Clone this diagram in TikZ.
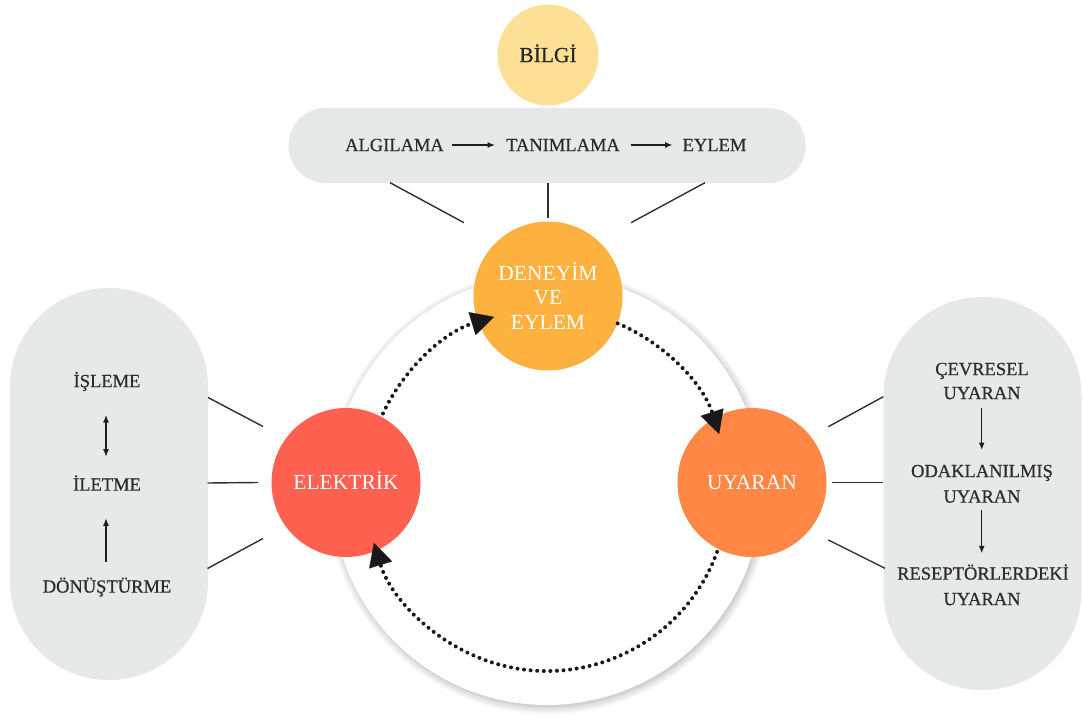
\documentclass[tikz,border=0pt]{standalone}
\usepackage{fontspec}
\setmainfont{Liberation Serif}
\usetikzlibrary{arrows.meta,calc,shadows.blur}

\definecolor{pillgray}{HTML}{E7E8E8}
\definecolor{txtgray}{HTML}{2C2C2C}
\definecolor{linegray}{HTML}{303030}
\definecolor{infoyellow}{HTML}{FEDF96}
\definecolor{expcolor}{HTML}{FDB13E}
\definecolor{eleccolor}{HTML}{FE6150}
\definecolor{stimcolor}{HTML}{FF8745}
\definecolor{darktext}{HTML}{262626}

\begin{document}
\begin{tikzpicture}[x=1pt,y=1pt,
  capsize/.style={font=\fontsize{18.5}{22}\selectfont\addfontfeatures{FakeBold=0.6}, text=txtgray, inner sep=0pt,
    text height=12.2pt, text depth=0pt},
  disc/.style={circle, inner sep=0pt, minimum size=149pt, text=white,
    font=\fontsize{21.5}{24.5}\selectfont, align=center},
  oneline/.style={text height=14.2pt, text depth=0pt},
  panel/.style={fill=pillgray, inner sep=0pt},
  link/.style={draw=linegray, line width=1.4pt},
  smallarrow/.style={draw=black!88, line width=1.2pt, -{Latex[length=7.5pt,width=6pt]}},
  looparrow/.style={draw=black!90, line width=4pt, line cap=round,
    dash pattern=on 0pt off 6.6pt,
    -{Triangle[length=23pt,width=24pt,line width=0.1pt]}},
]
\useasboundingbox (0,0) rectangle (1083,718);

% grey panels
\node[panel, minimum width=198pt, minimum height=392pt, rounded corners=98.5pt] (lpill) at (109,234) {};
\node[panel, minimum width=198pt, minimum height=393pt, rounded corners=98.5pt] (rpill) at (982.5,224.5) {};
\node[panel, minimum width=517pt, minimum height=75pt, rounded corners=37pt] (bar) at (547,572.5) {};

% white ring with soft shadow
\node[circle, fill=white, minimum size=430pt, inner sep=0pt,
  blur shadow={shadow xshift=1.5pt, shadow yshift=-2pt, shadow blur radius=8pt, shadow opacity=32, shadow blur steps=12}]
  (ring) at (547,228) {};

% main discs
\node[disc, oneline, fill=infoyellow, minimum size=101pt, text=darktext,
  font=\fontsize{21.5}{24.5}\selectfont\addfontfeatures{FakeBold=0.5}] (bilgi) at (548,663) {BİLGİ};
\node[disc, fill=expcolor] (den) at (548,422) {DENEYİM\\VE\\EYLEM};
\node[disc, oneline, fill=eleccolor] (elek) at (346,235.5) {ELEKTRİK};
\node[disc, oneline, fill=stimcolor] (uyar) at (752,235.5) {UYARAN};

% top sequence
\node[capsize] (alg) at (394.5,573) {ALGILAMA};
\node[capsize] (tan) at (563,573) {TANIMLAMA};
\node[capsize] (eyl) at (714.5,573) {EYLEM};
\draw[smallarrow] ($(alg.center)+(57.5,0)$) -- ($(tan.center)+(-68,0)$);
\draw[smallarrow] ($(tan.center)+(68,0)$) -- ($(eyl.center)+(-42,0)$);

\draw[link] ($(bar.center)+(-157,-37.2)$) -- ($(den.center)+(-84,73.3)$);
\draw[link] ($(bar.center)+(1,-37.2)$) -- ($(den.center)+(0,77.7)$);
\draw[link] ($(bar.center)+(158,-37.2)$) -- ($(den.center)+(83,73.3)$);

% left column
\node[capsize] (isl) at (107,337) {İŞLEME};
\node[capsize] (ilt) at (107,233.5) {İLETME};
\node[capsize] (don) at (107,131.5) {DÖNÜŞTÜRME};
\draw[smallarrow, {Latex[length=7.5pt,width=6pt]}-{Latex[length=7.5pt,width=6pt]}]
  ($(isl.center)+(-1,-34)$) -- ($(ilt.center)+(-1,27.8)$);
\draw[smallarrow] ($(don.center)+(-1,24.8)$) -- ($(ilt.center)+(-1,-33.8)$);

\draw[link] ($(lpill.center)+(99,86.5)$) -- ($(elek.center)+(-83,56)$);
\draw[link] ($(lpill.center)+(98.5,1)$) -- ($(elek.center)+(-88,0)$);
\draw[link] ($(lpill.center)+(98.5,-84.5)$) -- ($(elek.center)+(-83,-56)$);

% right column
\node[capsize] (cev1) at (982,349) {ÇEVRESEL};
\node[capsize] (cev2) at (982,325) {UYARAN};
\node[capsize] (oda1) at (982,247) {ODAKLANILMIŞ};
\node[capsize] (oda2) at (982,221.5) {UYARAN};
\node[capsize] (res1) at (983,144.5) {RESEPTÖRLERDEKİ};
\node[capsize] (res2) at (982,119) {UYARAN};
\draw[smallarrow] ($(cev2.center)+(-0.3,-15.3)$) -- ($(oda1.center)+(-0.3,21)$);
\draw[smallarrow] ($(oda2.center)+(-0.3,-13.5)$) -- ($(res1.center)+(-1.3,20.2)$);

\draw[link] ($(uyar.center)+(76.3,55.8)$) -- ($(rpill.center)+(-99.2,96.8)$);
\draw[link] ($(uyar.center)+(79.7,0.2)$) -- ($(rpill.center)+(-99.2,11.2)$);
\draw[link] ($(uyar.center)+(76.3,-57.5)$) -- ($(rpill.center)+(-97.5,-74.8)$);

% dotted cycle between the discs
\draw[looparrow] ($(ring.center)+(155:181pt)$) arc[start angle=155, end angle=107, radius=181pt];
\draw[looparrow] ($(ring.center)+(67:181pt)$) arc[start angle=67, end angle=18, radius=181pt];
\draw[looparrow] ($(ring.center)+(-20:181pt)$) arc[start angle=-20, end angle=-163, radius=181pt];
\end{tikzpicture}
\end{document}
